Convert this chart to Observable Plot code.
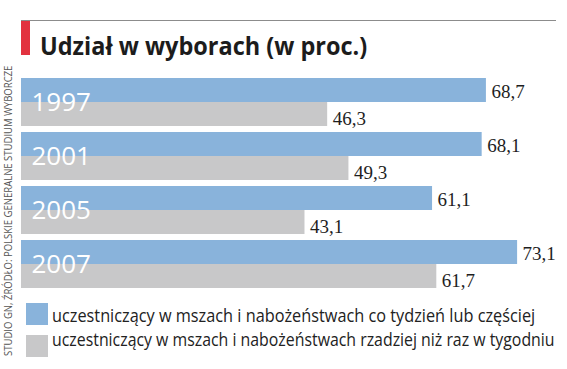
<!DOCTYPE html>
<html>
<head>
<meta charset="utf-8">
<script src="https://cdn.jsdelivr.net/npm/d3@7"></script>
<script src="https://cdn.jsdelivr.net/npm/@observablehq/plot@0.6"></script>
<style>
  html, body { margin: 0; padding: 0; background: #fff; }
  #wrap { position: relative; width: 567px; height: 369px; overflow: hidden; background: #fff; }
  .abs { position: absolute; }
  .fit { display: inline-block; white-space: nowrap; transform-origin: 0 0; }
  #title { left: 40px; top: 33px; font: 700 25px/25px "Open Sans", sans-serif; color: #1c1c1c; }
  .leg { left: 52px; font: 400 17.5px/20px "Open Sans", sans-serif; color: #222; }
  .sw { width: 22px; height: 22px; left: 26px; }
  #caption { left: 2px; top: 356px; font: 400 11.5px/12px "Open Sans", sans-serif; color: #555; }
</style>
</head>
<body>
<div id="wrap">
  <div class="abs" style="left:21px;top:20px;width:535px;height:1px;background:#8c8c8c"></div>
  <div class="abs" style="left:21px;top:21px;width:9px;height:34px;background:#e2323f"></div>
  <span id="title" class="abs fit">Udział w wyborach (w proc.)</span>
  <div id="chart" class="abs" style="left:0;top:70px"></div>
  <div id="sw1" class="abs sw"></div>
  <div id="sw2" class="abs sw"></div>
  <span id="leg1" class="abs fit leg" style="top:305px"></span>
  <span id="leg2" class="abs fit leg" style="top:329px"></span>
  <span id="caption" class="abs fit"></span>
</div>
<script>
const years = ["1997", "2001", "2005", "2007"];
const weekly = [68.7, 68.1, 61.1, 73.1];
const lessOften = [46.3, 49.3, 43.1, 61.7];
const seriesNames = [
  "uczestniczący w mszach i nabożeństwach co tydzień lub częściej",
  "uczestniczący w mszach i nabożeństwach rzadziej niż raz w tygodniu"
];
const seriesColors = ["#89b3db", "#c8c8c9"];
const captionText = "STUDIO GN, ŹRÓDŁO: POLSKIE GENERALNE STUDIUM WYBORCZE";

const data = [];
years.forEach((y, i) => {
  data.push({year: y, series: seriesNames[0], value: weekly[i]});
  data.push({year: y, series: seriesNames[1], value: lessOften[i]});
});
const fmt = v => v.toFixed(1).replace(".", ",");

const chart = Plot.plot({
  width: 567,
  height: 225,
  marginTop: 7,
  marginBottom: 5,
  marginLeft: 21,
  marginRight: 1,
  x: {domain: [3.1, 80], axis: null},
  y: {domain: seriesNames, padding: 0, axis: null},
  fy: {domain: years, paddingInner: 0.104, paddingOuter: 0, axis: null},
  color: {domain: seriesNames, range: seriesColors},
  style: {background: "transparent", overflow: "visible"},
  marks: [
    Plot.barX(data, {x: "value", y: "series", fy: "year", fill: "series", clip: true}),
    Plot.text(data.filter(d => d.series === seriesNames[0]), {
      x: "value", y: "series", fy: "year", text: d => fmt(d.value),
      textAnchor: "start", dx: 5, dy: 1, fill: "#1e1e1e",
      fontFamily: "Liberation Serif, serif", fontSize: 19
    }),
    Plot.text(data.filter(d => d.series === seriesNames[1]), {
      x: "value", y: "series", fy: "year", text: d => fmt(d.value),
      textAnchor: "start", dx: 5, dy: 4, fill: "#1e1e1e",
      fontFamily: "Liberation Serif, serif", fontSize: 19
    }),
    Plot.text(years, {
      fy: d => d, text: d => d, frameAnchor: "left", textAnchor: "start",
      dx: 10, dy: 0, fill: "#ffffff", fontFamily: "Open Sans, sans-serif",
      fontSize: 26, fontWeight: 400
    })
  ]
});
document.getElementById("chart").appendChild(chart);

document.getElementById("sw1").style.cssText += `top:303px;background:${seriesColors[0]}`;
document.getElementById("sw2").style.cssText += `top:335px;background:${seriesColors[1]}`;
document.getElementById("leg1").textContent = seriesNames[0];
document.getElementById("leg2").textContent = seriesNames[1];
document.getElementById("caption").textContent = captionText;

function fit() {
  const f = (id, w, pre) => {
    const el = document.getElementById(id);
    const k = w / el.offsetWidth;
    el.style.transform = (pre || "") + `scaleX(${k})`;
  };
  f("title", 327);
  f("leg1", 483);
  f("leg2", 503);
  f("caption", 290, "rotate(-90deg) ");
}
fit();
if (document.fonts && document.fonts.ready) document.fonts.ready.then(fit);
</script>
</body>
</html>
